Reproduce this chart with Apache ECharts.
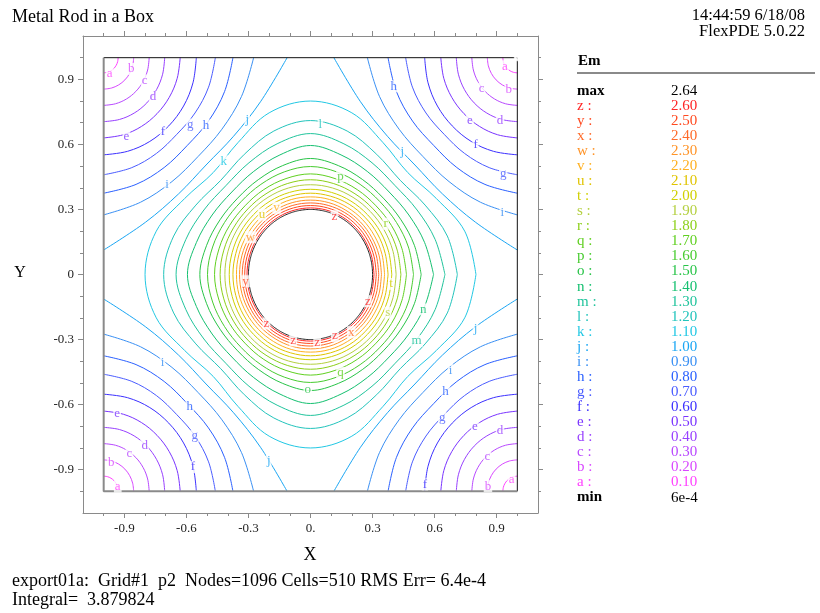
<!DOCTYPE html>
<html>
<head>
<meta charset="utf-8">
<script src="https://cdn.jsdelivr.net/npm/echarts@6/dist/echarts.min.js"></script>
<style>
html, body { margin: 0; padding: 0; background: #fff; }
#chart { width: 820px; height: 613px; }
</style>
</head>
<body>
<div id="chart"></div>
<script>
// Contour levels of the field magnitude Em
const levelLetters = ['a','b','c','d','e','f','g','h','i','j','k','l','m','n','o','p','q','r','s','t','u','v','w','x','y','z'];
const levelValues = [0.10,0.20,0.30,0.40,0.50,0.60,0.70,0.80,0.90,1.00,1.10,1.20,1.30,1.40,1.50,1.60,1.70,1.80,1.90,2.00,2.10,2.20,2.30,2.40,2.50,2.60];
const levelColors = ['#ff40ff','#d848ff','#b848ff','#9840ff','#7a34ff','#3c30ff','#4a5cff','#2a60ff','#3a90f4','#1aa6f4',
                     '#22c8e4','#22c4bc','#20c49c','#14c070','#28c448','#48cc30','#60d020','#8cd018','#b4d040','#d0d000',
                     '#e0c400','#ffb020','#ff9428','#ff6a28','#ff4a20','#ff2424'];
const fieldMax = '2.64';
const fieldMin = '6e-4';

// Geometry: square box [-1,1]^2 with a rod of radius 0.3 at the centre
const domainMax = 1.0;
const rodRadius = 0.3;

// Corner contours a..j: distance from the box corner, sampled every 15 degrees
// (0 = along the top/bottom wall, 90 = along the side wall)
const cornerAngles = [0, 15, 30, 45, 60, 75, 90];
const cornerRadii = [
  [0.070, 0.070, 0.070, 0.070, 0.070, 0.070, 0.070], // a
  [0.145, 0.145, 0.145, 0.145, 0.145, 0.145, 0.145], // b
  [0.220, 0.220, 0.220, 0.220, 0.220, 0.220, 0.220], // c
  [0.295, 0.295, 0.295, 0.295, 0.295, 0.295, 0.295], // d
  [0.370, 0.368, 0.366, 0.365, 0.366, 0.368, 0.370], // e
  [0.448, 0.447, 0.446, 0.445, 0.446, 0.447, 0.448], // f
  [0.540, 0.525, 0.510, 0.500, 0.510, 0.525, 0.540], // g
  [0.625, 0.605, 0.585, 0.572, 0.585, 0.605, 0.625], // h
  [0.725, 0.690, 0.660, 0.645, 0.660, 0.690, 0.725], // i
  [0.887, 0.785, 0.725, 0.700, 0.725, 0.785, 0.887]  // j
];

// Closed contours k..z around the rod: radius from the centre, sampled every 15 degrees
const ringAngles = [0, 15, 30, 45, 60, 75, 90];
const ringRadii = [
  [0.800, 0.772, 0.702, 0.665, 0.702, 0.772, 0.800], // k
  [0.710, 0.685, 0.640, 0.614, 0.640, 0.685, 0.710], // l
  [0.650, 0.624, 0.595, 0.579, 0.595, 0.624, 0.650], // m
  [0.595, 0.571, 0.549, 0.538, 0.549, 0.571, 0.595], // n
  [0.535, 0.520, 0.505, 0.498, 0.505, 0.520, 0.535], // o
  [0.498, 0.490, 0.480, 0.475, 0.480, 0.490, 0.498], // p
  [0.464, 0.458, 0.452, 0.448, 0.452, 0.458, 0.464], // q
  [0.437, 0.434, 0.430, 0.428, 0.430, 0.434, 0.437], // r
  [0.414, 0.413, 0.411, 0.410, 0.411, 0.413, 0.414], // s
  [0.393, 0.392, 0.391, 0.390, 0.391, 0.392, 0.393], // t
  [0.375, 0.374, 0.374, 0.373, 0.374, 0.374, 0.375], // u
  [0.358, 0.358, 0.357, 0.357, 0.357, 0.358, 0.358], // v
  [0.343, 0.343, 0.342, 0.342, 0.342, 0.343, 0.343], // w
  [0.330, 0.330, 0.330, 0.330, 0.330, 0.330, 0.330], // x
  [0.318, 0.318, 0.318, 0.318, 0.318, 0.318, 0.318], // y
  [0.307, 0.307, 0.307, 0.307, 0.307, 0.307, 0.307]  // z
];
const firstRingLevel = 10; // ring contours start at level k

// Contour letter labels placed along the curves: [x, y, letter]
const contourLabels = [
  [-0.971, 0.926, 'a'], [-0.867, 0.948, 'b'], [-0.802, 0.895, 'c'], [-0.761, 0.819, 'd'], [-0.890, 0.635, 'e'],
  [-0.713, 0.658, 'f'], [-0.581, 0.691, 'g'], [-0.505, 0.688, 'h'], [-0.693, 0.415, 'i'], [-0.306, 0.714, 'j'],
  [-0.419, 0.522, 'k'],
  [0.940, 0.960, 'a'], [0.959, 0.853, 'b'], [0.827, 0.857, 'c'], [0.916, 0.711, 'd'], [0.771, 0.711, 'e'],
  [0.798, 0.599, 'f'], [0.932, 0.465, 'g'], [0.403, 0.868, 'h'], [0.927, 0.284, 'i'], [0.444, 0.568, 'j'],
  [0.048, 0.691, 'l'], [0.145, 0.453, 'p'],
  [-0.932, -0.978, 'a'], [-0.963, -0.868, 'b'], [-0.876, -0.826, 'c'], [-0.802, -0.787, 'd'], [-0.935, -0.641, 'e'],
  [-0.568, -0.888, 'f'], [-0.560, -0.745, 'g'], [-0.584, -0.611, 'h'], [-0.715, -0.404, 'i'], [-0.202, -0.856, 'j'],
  [-0.013, -0.533, 'o'],
  [0.972, -0.945, 'a'], [0.858, -0.976, 'b'], [0.855, -0.840, 'c'], [0.916, -0.722, 'd'], [0.795, -0.702, 'e'],
  [0.553, -0.968, 'f'], [0.637, -0.660, 'g'], [0.653, -0.538, 'h'], [0.677, -0.441, 'i'], [0.798, -0.250, 'j'],
  [0.513, -0.307, 'm'], [0.545, -0.161, 'n'], [0.145, -0.453, 'q'],
  [-0.234, 0.276, 'u'], [-0.164, 0.307, 'v'], [-0.290, 0.172, 'w'], [-0.314, -0.031, 'y'], [0.116, 0.269, 'z'],
  [0.363, 0.234, 'r'], [0.390, -0.043, 't'], [0.277, -0.123, 'z'], [0.374, -0.176, 's'], [0.197, -0.266, 'x'],
  [0.118, -0.284, 'z'], [0.032, -0.312, 'z'], [-0.084, -0.304, 'z'], [-0.213, -0.226, 'z']
];

// Axis ticks
const axisRange = [-1.1, 1.1];
const majorTicks = [-0.9, -0.6, -0.3, 0, 0.3, 0.6, 0.9];
const minorTicks = [-1.0, -0.8, -0.7, -0.5, -0.4, -0.2, -0.1, 0.1, 0.2, 0.4, 0.5, 0.7, 0.8, 1.0];

const serif = '"Liberation Serif", "Times New Roman", serif';
const axisGray = '#8a8a8a';

const toRad = d => d * Math.PI / 180;

// One quadrant of a ring (from +x axis to +y axis), reflected into the other three quadrants
function ringPath(radii) {
  const q = ringAngles.map((a, i) => [radii[i] * Math.cos(toRad(a)), radii[i] * Math.sin(toRad(a))]);
  const tl = q.slice().reverse().map(([x, y]) => [-x, y]);
  const bl = q.map(([x, y]) => [-x, -y]);
  const br = q.slice().reverse().map(([x, y]) => [x, -y]);
  return q.concat(tl.slice(1), bl.slice(1), br.slice(1));
}

// Arc around the corner (sx*1, sy*1)
function cornerPath(radii, sx, sy) {
  return cornerAngles.map((a, i) => [
    sx * (domainMax - radii[i] * Math.cos(toRad(a))),
    sy * (domainMax - radii[i] * Math.sin(toRad(a)))
  ]);
}

function contourSeries(data, color) {
  return {
    type: 'line', xAxisIndex: 0, yAxisIndex: 0, data: data,
    showSymbol: false, smooth: 0.35, silent: true, z: 2,
    lineStyle: { color: color, width: 1 }
  };
}

const series = [];

cornerRadii.forEach((radii, li) => {
  [[1, 1], [-1, 1], [-1, -1], [1, -1]].forEach(([sx, sy]) => {
    series.push(contourSeries(cornerPath(radii, sx, sy), levelColors[li]));
  });
});

ringRadii.forEach((radii, k) => {
  series.push(contourSeries(ringPath(radii), levelColors[firstRingLevel + k]));
});

// Rod boundary
const rodPts = [];
for (let a = 0; a <= 360; a += 4) rodPts.push([rodRadius * Math.cos(toRad(a)), rodRadius * Math.sin(toRad(a))]);
series.push({
  type: 'line', data: rodPts, showSymbol: false, smooth: true, silent: true, z: 3,
  lineStyle: { color: '#202020', width: 1 }
});

// Box walls: top and right in black, left and bottom heavier grey
const lo = -domainMax, hi = domainMax;
series.push({
  type: 'line', data: [[lo, hi], [hi, hi], [hi, lo]], showSymbol: false, silent: true, z: 4,
  lineStyle: { color: '#111', width: 1 }
});
series.push({
  type: 'line', data: [[lo, hi], [lo, lo], [hi, lo]], showSymbol: false, silent: true, z: 4,
  lineStyle: { color: '#8a8a8a', width: 2 }
});
// Corner marker
series.push({
  type: 'scatter', data: [[hi, hi]], symbol: 'emptyCircle', symbolSize: 5, silent: true, z: 5,
  itemStyle: { color: '#fff', borderColor: '#222', borderWidth: 1 }
});

// Contour letters
series.push({
  type: 'scatter', symbolSize: 0, silent: true, z: 6,
  data: contourLabels.map(([x, y, ch]) => {
    const li = levelLetters.indexOf(ch);
    return {
      value: [x, y],
      label: { color: levelColors[li] }
    };
  }),
  label: {
    show: true, position: 'inside',
    formatter: p => contourLabels[p.dataIndex][2],
    fontFamily: serif, fontSize: 13,
    backgroundColor: '#fff', padding: [0, 1, 0, 1], lineHeight: 12
  }
});

function axisPair(dim, pos, showLabel) {
  const isX = dim === 'x';
  const fmt = v => {
    if (Math.abs(v) < 1e-9) return isX ? '0.' : '0';
    return v.toFixed(1);
  };
  const major = {
    type: 'value', position: pos, min: axisRange[0], max: axisRange[1],
    splitLine: { show: false },
    axisLine: { show: true, onZero: false, lineStyle: { color: axisGray, width: 1 } },
    axisTick: { show: true, inside: false, length: 5, customValues: majorTicks, lineStyle: { color: axisGray } },
    axisLabel: {
      show: showLabel, customValues: majorTicks, formatter: fmt, margin: 9,
      fontFamily: serif, fontSize: 13, color: '#222'
    }
  };
  const minor = {
    type: 'value', position: pos, min: axisRange[0], max: axisRange[1], offset: 0,
    splitLine: { show: false },
    axisLine: { show: false, onZero: false },
    axisTick: { show: true, inside: false, length: 3, customValues: minorTicks, lineStyle: { color: axisGray } },
    axisLabel: { show: false }
  };
  return [major, minor];
}

const xAxes = axisPair('x', 'bottom', true).concat(axisPair('x', 'top', false));
const yAxes = axisPair('y', 'left', true).concat(axisPair('y', 'right', false));

// Legend column and page texts
const graphics = [];
function txt(x, y, text, opts) {
  graphics.push({
    type: 'text', x: x, y: y, silent: true,
    style: Object.assign({
      text: text, fill: '#000', font: '15px ' + serif,
      textAlign: 'left', textVerticalAlign: 'middle', align: 'left', verticalAlign: 'middle'
    }, opts || {})
  });
}
txt(12, 17, 'Metal Rod in a Box', { font: '18px ' + serif });
txt(805, 16, '14:44:59 6/18/08', { font: '16.5px ' + serif, textAlign: 'right', align: 'right' });
txt(805, 32, 'FlexPDE 5.0.22', { font: '16.5px ' + serif, textAlign: 'right', align: 'right' });
txt(310, 555, 'X', { font: '18px ' + serif, textAlign: 'center', align: 'center' });
txt(20, 273, 'Y', { font: '16px ' + serif, textAlign: 'center', align: 'center' });
txt(12, 581, 'export01a:  Grid#1  p2  Nodes=1096 Cells=510 RMS Err= 6.4e-4', { font: '18px ' + serif });
txt(12, 600, 'Integral=  3.879824', { font: '18px ' + serif });

txt(578, 61, 'Em', { font: 'bold 15px ' + serif });
graphics.push({
  type: 'line', silent: true,
  shape: { x1: 577, y1: 73, x2: 815, y2: 73 },
  style: { stroke: '#8a8a8a', lineWidth: 2 }
});
const rowTop = 90.7, rowStep = 15.07, colKey = 577, colVal = 671;
txt(colKey, rowTop, 'max', { font: 'bold 15px ' + serif });
txt(colVal, rowTop, fieldMax, { font: '15px ' + serif });
for (let i = levelLetters.length - 1, row = 1; i >= 0; i--, row++) {
  const y = rowTop + row * rowStep;
  txt(colKey, y, levelLetters[i] + ' :', { font: '15px ' + serif, fill: levelColors[i] });
  txt(colVal, y, levelValues[i].toFixed(2), { font: '15px ' + serif, fill: levelColors[i] });
}
txt(colKey, rowTop + (levelLetters.length + 1) * rowStep, 'min', { font: 'bold 15px ' + serif });
txt(colVal, rowTop + (levelLetters.length + 1) * rowStep, fieldMin, { font: '15px ' + serif });

const chart = echarts.init(document.getElementById('chart'));
chart.setOption({
  animation: false,
  backgroundColor: '#fff',
  grid: { left: 83, top: 36, width: 455, height: 477, containLabel: false },
  xAxis: xAxes,
  yAxis: yAxes,
  series: series,
  graphic: graphics
});
</script>
</body>
</html>
